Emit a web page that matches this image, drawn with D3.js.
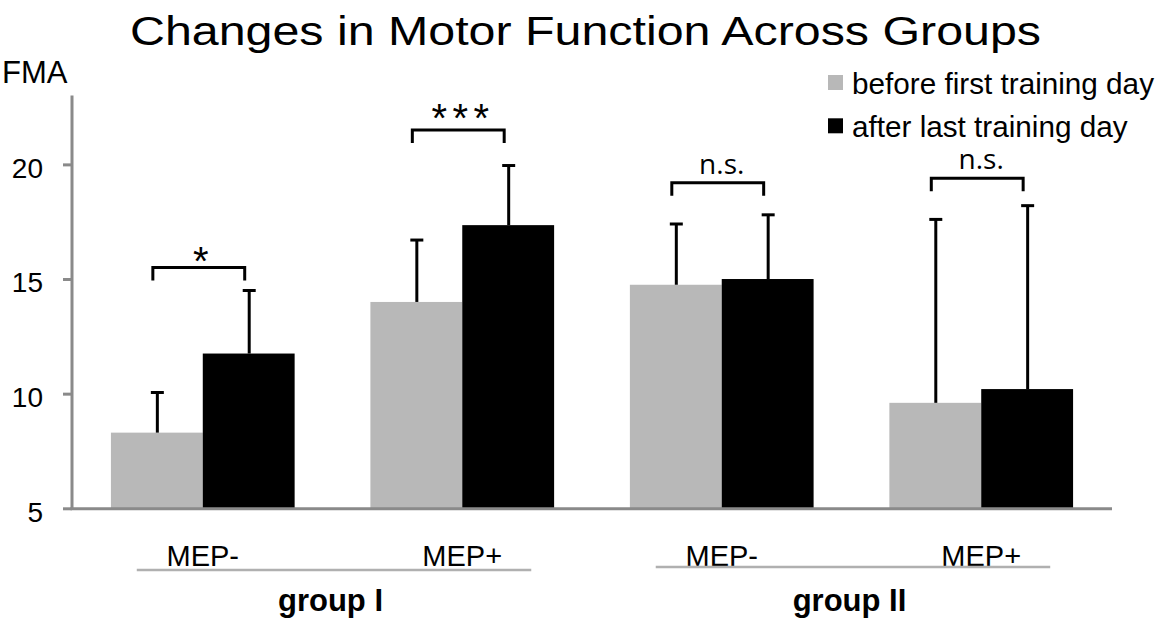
<!DOCTYPE html>
<html>
<head>
<meta charset="utf-8">
<script src="https://cdn.jsdelivr.net/npm/d3@7"></script>
<style>
  html, body { margin: 0; padding: 0; background: #fff; }
  svg { display: block; font-family: "Liberation Sans", Arial, sans-serif; }
</style>
</head>
<body>
<svg id="chart" width="1159" height="630"></svg>
<script>
// Fugl-Meyer scores per subgroup, before and after training
const categories = ["I:MEP-", "I:MEP+", "II:MEP-", "II:MEP+"];
const categoryLabels = ["MEP-", "MEP+", "MEP-", "MEP+"];
const groups = ["group I", "group II"];
const groupMembers = [["I:MEP-", "I:MEP+"], ["II:MEP-", "II:MEP+"]];
const seriesNames = ["before first training day", "after last training day"];
const beforeValues = [8.3, 14.0, 14.75, 9.6];
const afterValues = [11.75, 17.35, 15.0, 10.2];
const beforeErrors = [1.75, 2.7, 2.65, 8.0];
const afterErrors = [2.75, 2.6, 2.8, 8.0];
const significance = ["*", "***", "n.s.", "n.s."];
const bracketLevels = [15.5, 21.5, 19.2, 19.4];
const yTicks = [5, 10, 15, 20];
const yDomain = [5, 23];

const colors = ["#b8b8b8", "#000000"];
const axisColor = "#8a8a8a";

const svg = d3.select("#chart");

const x = d3.scaleBand().domain(categories).range([72, 1112])
  .paddingInner(0.292).paddingOuter(0.15);
const xs = d3.scaleBand().domain(seriesNames).range([0, x.bandwidth()]);
const y = d3.scaleLinear().domain(yDomain).range([508.3, 95.6]);

// title and axis label
svg.append("text").attr("x", 130).attr("y", 44.5)
  .attr("font-size", 41).attr("textLength", 911).attr("lengthAdjust", "spacingAndGlyphs")
  .text("Changes in Motor Function Across Groups");
svg.append("text").attr("x", 2).attr("y", 83).attr("font-size", 31).text("FMA");

// bars
const rows = categories.map((c, i) => ({
  cat: c,
  vals: [
    { s: seriesNames[0], v: beforeValues[i], e: beforeErrors[i] },
    { s: seriesNames[1], v: afterValues[i], e: afterErrors[i] }
  ]
}));

const gCat = svg.append("g").selectAll("g").data(rows).join("g")
  .attr("transform", d => `translate(${x(d.cat)},0)`);

gCat.selectAll("rect").data(d => d.vals).join("rect")
  .attr("x", d => xs(d.s))
  .attr("width", xs.bandwidth())
  .attr("y", d => y(d.v))
  .attr("height", d => y(yDomain[0]) - y(d.v))
  .attr("fill", (d, i) => colors[i]);

// error bars (upper only)
const eb = gCat.selectAll("g.err").data(d => d.vals).join("g").attr("class", "err");
eb.append("line")
  .attr("x1", d => xs(d.s) + xs.bandwidth() / 2 + 0.5)
  .attr("x2", d => xs(d.s) + xs.bandwidth() / 2 + 0.5)
  .attr("y1", d => y(d.v)).attr("y2", d => y(d.v + d.e))
  .attr("stroke", "#000").attr("stroke-width", 3);
eb.append("line")
  .attr("x1", d => xs(d.s) + xs.bandwidth() / 2 - 6)
  .attr("x2", d => xs(d.s) + xs.bandwidth() / 2 + 7)
  .attr("y1", d => y(d.v + d.e)).attr("y2", d => y(d.v + d.e))
  .attr("stroke", "#000").attr("stroke-width", 3);

// significance brackets
rows.forEach((r, i) => {
  const x0 = x(r.cat) + xs(seriesNames[0]) + xs.bandwidth() / 2 - 4;
  const x1 = x(r.cat) + xs(seriesNames[1]) + xs.bandwidth() / 2 - 4;
  const yb = y(bracketLevels[i]);
  svg.append("path")
    .attr("d", `M${x0},${yb + 13}V${yb}H${x1}V${yb + 13}`)
    .attr("fill", "none").attr("stroke", "#000").attr("stroke-width", 3);
  const lab = significance[i];
  const t = svg.append("text").attr("text-anchor", "middle").text(lab);
  if (lab === "n.s.") {
    t.attr("x", (x0 + x1) / 2 + 4).attr("y", yb - 9)
      .attr("font-family", "'Open Sans', sans-serif").attr("font-size", 28);
  } else {
    const ls = lab.length > 1 ? 5.4 : 0;
    t.attr("x", (x0 + x1) / 2 + 2 + ls / 2).attr("y", lab.length > 1 ? yb + 2 : yb + 7.5)
      .attr("font-size", 40).attr("letter-spacing", ls);
  }
});

// y axis
const yAxis = svg.append("g").attr("transform", "translate(72,0)")
  .call(d3.axisLeft(y).tickValues(yTicks).tickSize(9).tickPadding(20).tickSizeOuter(0));
yAxis.select(".domain").remove();
yAxis.selectAll(".tick line").attr("stroke", axisColor).attr("stroke-width", 3);
yAxis.selectAll(".tick text").attr("font-size", 28).attr("fill", "#000")
  .attr("font-family", "'Liberation Sans', Arial, sans-serif").attr("dy", "0.46em");
svg.append("line").attr("x1", 72).attr("x2", 72).attr("y1", y(yDomain[1]))
  .attr("y2", y(yDomain[0]) + 1.5).attr("stroke", axisColor).attr("stroke-width", 3);

// x baseline
svg.append("line").attr("x1", 70.5).attr("x2", 1112).attr("y1", y(yDomain[0]) + 0.5)
  .attr("y2", y(yDomain[0]) + 0.5).attr("stroke", axisColor).attr("stroke-width", 3);

// category labels
categories.forEach((c, i) => {
  svg.append("text").attr("x", x(c) + x.bandwidth() / 2).attr("y", 566)
    .attr("text-anchor", "middle").attr("font-size", 29).text(categoryLabels[i]);
});

// group underlines and names
groups.forEach((g, gi) => {
  const [a, b] = groupMembers[gi];
  const ca = x(a) + x.bandwidth() / 2, cb = x(b) + x.bandwidth() / 2;
  const ly = gi === 0 ? 570 : 567;
  svg.append("line").attr("x1", ca - 66).attr("x2", cb + 69).attr("y1", ly).attr("y2", ly)
    .attr("stroke", "#b0b0b0").attr("stroke-width", 2.5);
  svg.append("text").attr("x", (ca + cb) / 2 - 2).attr("y", 611)
    .attr("text-anchor", "middle").attr("font-size", 31).attr("font-weight", "bold").text(g);
});

// legend
const legend = svg.append("g").attr("transform", "translate(828,75)");
seriesNames.forEach((s, i) => {
  legend.append("rect").attr("x", 0).attr("y", i * 43.3).attr("width", 15).attr("height", 15)
    .attr("fill", colors[i]);
  legend.append("text").attr("x", 24).attr("y", i * 43.3 + 18.5).attr("font-size", 29.7).text(s);
});
</script>
</body>
</html>
